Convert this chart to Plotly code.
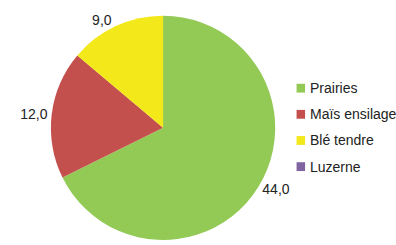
import plotly.graph_objects as go

labels = ["Prairies", "Maïs ensilage", "Blé tendre", "Luzerne"]
values = [44.0, 12.0, 9.0, 0.0]
colors = ["#93C955", "#C4504E", "#F2E81A", "#8064A2"]

texts = [("%.1f" % v).replace(".", ",") if v > 0 else "" for v in values]
FONT = "Liberation Sans, Arial, Helvetica, sans-serif"
W, H = 396, 245

fig = go.Figure(go.Pie(
    labels=labels, values=values, sort=False, direction="clockwise", rotation=0,
    marker=dict(colors=colors, line=dict(width=0)),
    text=texts, texttemplate="%{text}", textposition="outside",
    textfont=dict(family=FONT, size=14, color="#222"),
    domain=dict(x=[24 / W, 276 / W], y=[0.0, 1 - 16 / H]),
    hoverinfo="label+value", showlegend=False,
))

# legend built from the category list
leg_x, leg_y0, leg_dy, sq = 291, 90, 26.7, 9
shapes, annots = [], []
for i, (lab, col) in enumerate(zip(labels, colors)):
    yc = leg_y0 + i * leg_dy
    shapes.append(dict(type="rect", xref="paper", yref="paper",
                       x0=leg_x / W, x1=(leg_x + sq) / W,
                       y0=1 - (yc + sq / 2) / H, y1=1 - (yc - sq / 2) / H,
                       fillcolor=col, line=dict(width=0)))
    annots.append(dict(text=lab, xref="paper", yref="paper",
                       x=(leg_x + sq + 3) / W, y=1 - yc / H,
                       xanchor="left", yanchor="middle", showarrow=False,
                       font=dict(family=FONT, size=14, color="#222")))

fig.update_layout(
    width=W, height=H, margin=dict(l=0, r=0, t=0, b=0),
    paper_bgcolor="white", plot_bgcolor="white",
    shapes=shapes, annotations=annots,
)
fig.write_html("out.html", config={"displayModeBar": False},
               post_script="document.body.style.margin='0px';document.body.style.overflow='hidden';")
